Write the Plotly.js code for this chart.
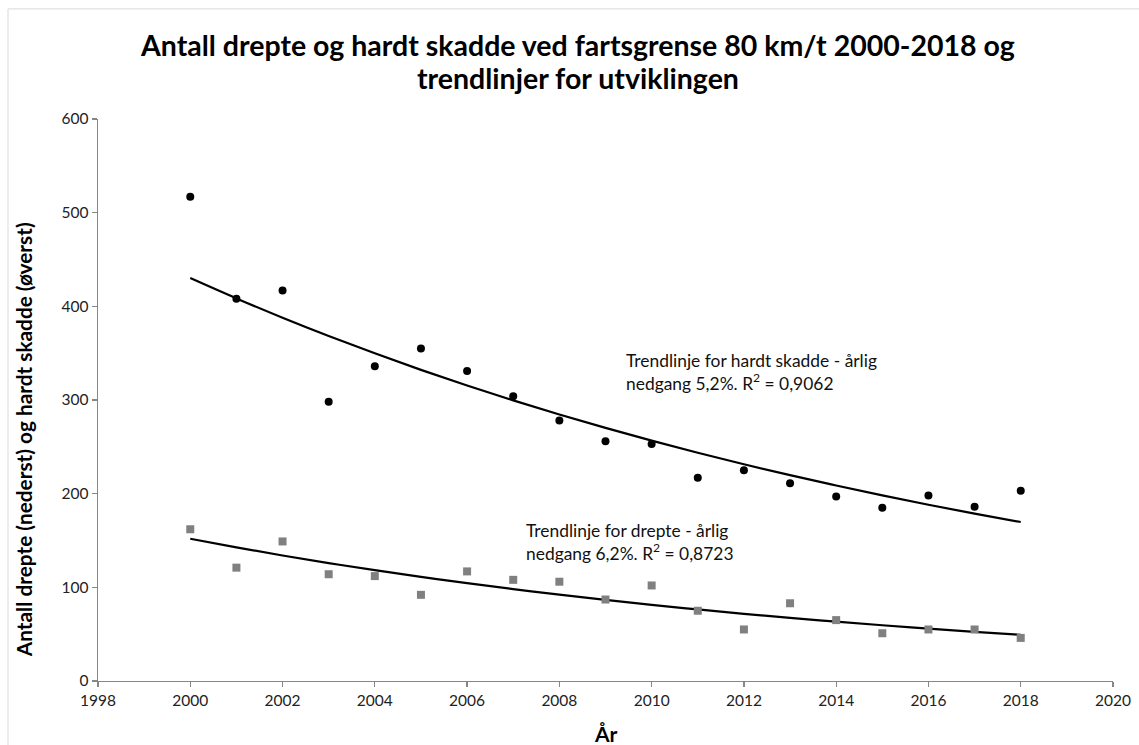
<!DOCTYPE html>
<html>
<head>
<meta charset="utf-8">
<script src="https://cdn.plot.ly/plotly-3.0.1.min.js"></script>
<style>
html,body{margin:0;padding:0;background:#fff;}
#chart{width:1139px;height:745px;}
</style>
</head>
<body>
<div id="chart"></div>
<script>
// Data
var years = [2000,2001,2002,2003,2004,2005,2006,2007,2008,2009,2010,2011,2012,2013,2014,2015,2016,2017,2018];
var hardtSkadde = [517,408,417,298,336,355,331,304,278,256,253,217,225,211,197,185,198,186,203];
var drepte = [162,121,149,114,112,92,117,108,106,87,102,75,55,83,65,51,55,55,46];
var xTicks = [1998,2000,2002,2004,2006,2008,2010,2012,2014,2016,2018,2020];
var yTicks = [0,100,200,300,400,500,600];

var titleLine1 = 'Antall drepte og hardt skadde ved fartsgrense 80 km/t 2000-2018 og';
var titleLine2 = 'trendlinjer for utviklingen';
var yTitle = 'Antall drepte (nederst) og hardt skadde (øverst)';
var xTitle = 'År';
var noteSkadde = 'Trendlinje for hardt skadde - årlig<br>nedgang 5,2%. R<sup>2</sup> = 0,9062';
var noteDrepte = 'Trendlinje for drepte - årlig<br>nedgang 6,2%. R<sup>2</sup> = 0,8723';

// Exponential trendline (least squares on ln y), as Excel does
function expFit(xs, ys){
  var n = xs.length, mx = 0, my = 0;
  for (var i=0;i<n;i++){ mx += xs[i]; my += Math.log(ys[i]); }
  mx /= n; my /= n;
  var sxy = 0, sxx = 0;
  for (var j=0;j<n;j++){ sxy += (xs[j]-mx)*(Math.log(ys[j])-my); sxx += (xs[j]-mx)*(xs[j]-mx); }
  var b = sxy/sxx, a = my - b*mx;
  return function(x){ return Math.exp(a + b*x); };
}
var fS = expFit(years, hardtSkadde);
var fD = expFit(years, drepte);
var trendS = years.map(fS);
var trendD = years.map(fD);

var font = 'Lato, "Open Sans", sans-serif';

var traces = [
  {x: years, y: trendS, mode:'lines', line:{color:'#000', width:2.2, shape:'spline'}, hoverinfo:'skip', showlegend:false},
  {x: years, y: trendD, mode:'lines', line:{color:'#000', width:2.2, shape:'spline'}, hoverinfo:'skip', showlegend:false},
  {x: years, y: hardtSkadde, mode:'markers', marker:{color:'#000', size:8, symbol:'circle'}, name:'Hardt skadde', showlegend:false},
  {x: years, y: drepte, mode:'markers', marker:{color:'#808080', size:8, symbol:'square'}, name:'Drepte', showlegend:false}
];

var axisCommon = {
  showgrid:false, zeroline:false, showline:true, linecolor:'#868686', linewidth:1.3,
  ticks:'outside', ticklen:5, tickwidth:1.3, tickcolor:'#868686',
  tickfont:{family:font, size:15.5, color:'#222'}
};

// paper coordinates helpers for text placement (plot area: x 98..1113, y 119..680.6 px)
function px(xpix){ return (xpix-98)/1015; }
function py(ypix){ return (680.6-ypix)/561.6; }

var layout = {
  width:1139, height:745,
  paper_bgcolor:'#fff', plot_bgcolor:'#fff',
  margin:{l:98, r:26, t:119, b:64},
  xaxis: Object.assign({}, axisCommon, {range:[1998,2020], tickvals:xTicks, ticktext:xTicks.map(String)}),
  yaxis: Object.assign({}, axisCommon, {range:[0,600], tickvals:yTicks, ticktext:yTicks.map(String)}),
  annotations:[
    {text:titleLine1, xref:'paper', yref:'paper', x:px(577.5), y:py(45), xanchor:'center', yanchor:'middle', showarrow:false,
     font:{family:font, size:28.5, color:'#000', weight:'bold'}},
    {text:titleLine2, xref:'paper', yref:'paper', x:px(577.5), y:py(78), xanchor:'center', yanchor:'middle', showarrow:false,
     font:{family:font, size:28.5, color:'#000', weight:'bold'}},
    {text:yTitle, xref:'paper', yref:'paper', x:px(23), y:py(440), xanchor:'center', yanchor:'middle', textangle:-90, showarrow:false,
     font:{family:font, size:20.8, color:'#000', weight:'bold'}},
    {text:xTitle, xref:'paper', yref:'paper', x:px(606), y:py(733), xanchor:'center', yanchor:'middle', showarrow:false,
     font:{family:font, size:21, color:'#000', weight:'bold'}},
    {text:noteSkadde, xref:'paper', yref:'paper', x:px(624), y:py(348), xanchor:'left', yanchor:'top', align:'left', showarrow:false,
     font:{family:font, size:17.4, color:'#111'}},
    {text:noteDrepte, xref:'paper', yref:'paper', x:px(524), y:py(518), xanchor:'left', yanchor:'top', align:'left', showarrow:false,
     font:{family:font, size:17.4, color:'#111'}}
  ],
  shapes:[
    {type:'rect', xref:'paper', yref:'paper', x0:px(8), x1:1.2, y0:-0.3, y1:py(9), line:{color:'#d9d9d9', width:1}, fillcolor:'rgba(0,0,0,0)', layer:'below'}
  ]
};

Plotly.newPlot('chart', traces, layout, {displayModeBar:false, staticPlot:true});
</script>
</body>
</html>
